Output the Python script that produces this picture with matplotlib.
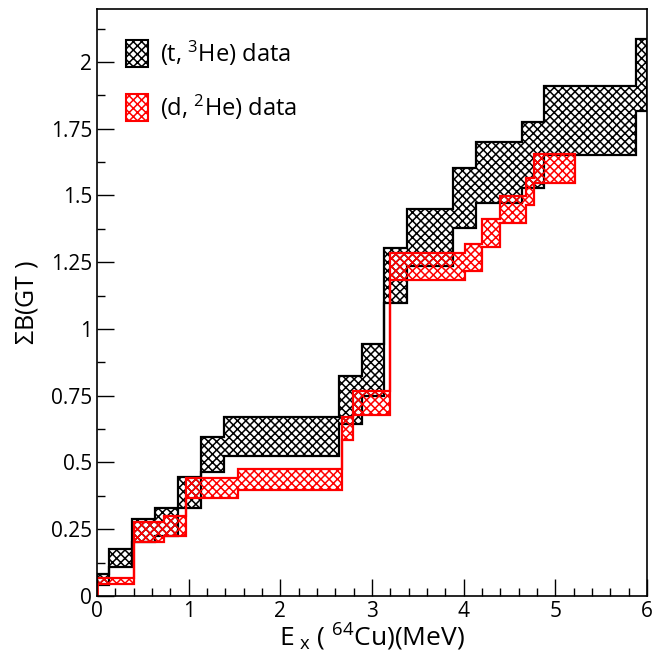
import matplotlib
matplotlib.use("Agg")
import matplotlib.pyplot as plt
import matplotlib.patches as mpatches
from matplotlib.ticker import MultipleLocator, FuncFormatter
import numpy as np

plt.rcParams['font.family'] = ['Open Sans', 'DejaVu Sans']
plt.rcParams['mathtext.fontset'] = 'custom'
plt.rcParams['mathtext.rm'] = 'Open Sans'
plt.rcParams['mathtext.it'] = 'Open Sans'
plt.rcParams['hatch.linewidth'] = 1.1

# (t,3He): bin edges in Ex and lower / upper limits of the summed B(GT)
th_edges = [0, 0.134, 0.385, 0.633, 0.887, 1.135, 1.389, 2.64, 2.887, 3.131,
            3.385, 3.887, 4.134, 4.632, 4.88, 5.88, 6.0]
th_hi = [0.083, 0.175, 0.29, 0.331, 0.447, 0.594, 0.672, 0.825, 0.944, 1.302,
         1.448, 1.602, 1.70, 1.776, 1.91, 2.085]
th_lo = [0.040, 0.109, 0.203, 0.226, 0.328, 0.463, 0.524, 0.645, 0.75, 1.099,
         1.236, 1.377, 1.473, 1.527, 1.652, 1.818]

# (d,2He)
dh_edges = [0, 0.407, 0.731, 0.967, 1.535, 2.669, 2.789, 3.196, 4.015, 4.196,
            4.396, 4.68, 4.77, 5.215]
dh_hi = [0.066, 0.278, 0.298, 0.44, 0.474, 0.672, 0.769, 1.286, 1.318, 1.411,
         1.498, 1.567, 1.655]
dh_lo = [0.045, 0.203, 0.226, 0.366, 0.397, 0.584, 0.678, 1.184, 1.218, 1.308,
         1.396, 1.464, 1.548]


def band_polygon(edges, lo, hi):
    # upper step line left->right, then lower step line right->left
    up = []
    for i in range(len(hi)):
        up += [(edges[i], hi[i]), (edges[i + 1], hi[i])]
    dn = []
    for i in range(len(lo)):
        dn += [(edges[i], lo[i]), (edges[i + 1], lo[i])]
    return np.array(up + dn[::-1])


fig = plt.figure(figsize=(6.53, 6.56), dpi=100)
ax = fig.add_axes([0.1485, 0.0915, 0.8423, 0.8955])

pb = mpatches.Polygon(band_polygon(th_edges, th_lo, th_hi), closed=True,
                      facecolor='none', edgecolor='black', hatch='xxxx', lw=1.6)
ax.add_patch(pb)

pr = mpatches.Polygon(band_polygon(dh_edges, dh_lo, dh_hi), closed=True,
                      facecolor='none', edgecolor='red', hatch='xxxx', lw=1.6)
ax.add_patch(pr)
ax.plot([0, 0], [0, dh_lo[0]], color='red', lw=2)

ax.set_xlim(0, 6)
ax.set_ylim(0, 2.2)

ax.xaxis.set_major_locator(MultipleLocator(1))
ax.xaxis.set_minor_locator(MultipleLocator(0.2))
ax.yaxis.set_major_locator(MultipleLocator(0.25))
ax.yaxis.set_minor_locator(MultipleLocator(0.125))
ax.yaxis.set_major_formatter(FuncFormatter(lambda v, p: '%g' % v))
ax.tick_params(which='both', direction='in', labelsize=15, top=False, right=False)
ax.tick_params(which='major', length=12, width=1)
ax.tick_params(which='minor', length=6, width=1)
for s in ax.spines.values():
    s.set_linewidth(1.2)

ax.set_xlabel(r'E$_{\rm\ x}$ ( $^{64}$Cu)(MeV)', fontsize=19, labelpad=0)
ax.set_ylabel(r'$\Sigma$B(GT )', fontsize=18, labelpad=8)

h1 = mpatches.Patch(facecolor='none', edgecolor='black', hatch='xxxx', lw=1.5,
                    label=r'(t, $^{3}$He) data')
h2 = mpatches.Patch(facecolor='none', edgecolor='red', hatch='xxxx', lw=1.5,
                    label=r'(d, $^{2}$He) data')
ax.legend(handles=[h1, h2], loc='upper left', bbox_to_anchor=(0.015, 0.985),
          frameon=False, fontsize=17, handlelength=0.9, handleheight=1.4,
          labelspacing=1.05, handletextpad=0.5)

plt.savefig('out.png', dpi=100)
